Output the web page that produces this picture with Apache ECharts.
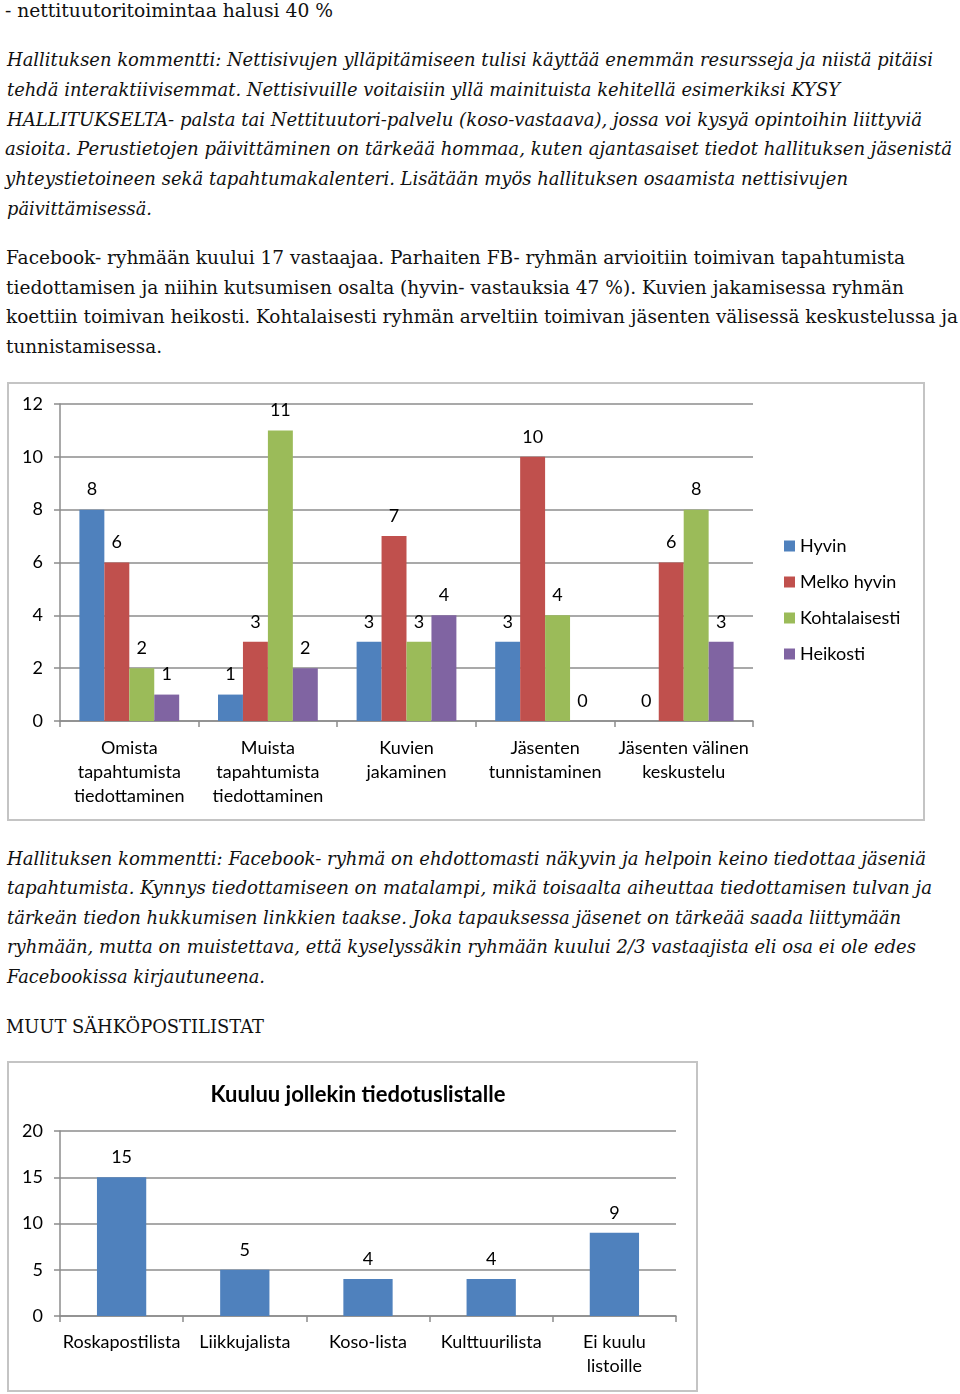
<!DOCTYPE html>
<html><head><meta charset="utf-8">
<script src="https://cdn.jsdelivr.net/npm/echarts@6/dist/echarts.min.js"></script>
<style>
html,body{margin:0;padding:0;background:#fff;}
body{width:960px;height:1394px;position:relative;overflow:hidden;}
.ln{position:absolute;white-space:pre;font-family:"DejaVu Serif",serif;font-size:19px;line-height:30px;color:#111;transform-origin:0 50%;}
.it{font-style:italic;}
.frame{position:absolute;border:2px solid #c4c4c4;box-sizing:border-box;pointer-events:none;}
.chart{position:absolute;}
</style></head>
<body>
<div id="c1" class="chart" style="left:0;top:370px;width:960px;height:460px;"></div>
<div class="frame" style="left:7px;top:382px;width:918px;height:439px;"></div>
<div id="c2" class="chart" style="left:0;top:1050px;width:700px;height:344px;"></div>
<div class="frame" style="left:7px;top:1061px;width:691px;height:331px;"></div>
<script>
// ---- text lines: [text, centerY, x, rightX, italic]
const textLines = [
 ["- nettituutoritoimintaa halusi 40 %", 10, 5, 333, false],
 ["Hallituksen kommentti: Nettisivujen ylläpitämiseen tulisi käyttää enemmän resursseja ja niistä pitäisi", 59, 7, 933, true],
 ["tehdä interaktiivisemmat. Nettisivuille voitaisiin yllä mainituista kehitellä esimerkiksi KYSY", 89, 7, 840, true],
 ["HALLITUKSELTA- palsta tai Nettituutori-palvelu (koso-vastaava), jossa voi kysyä opintoihin liittyviä", 119, 7, 922, true],
 ["asioita. Perustietojen päivittäminen on tärkeää hommaa, kuten ajantasaiset tiedot hallituksen jäsenistä", 148, 5, 952, true],
 ["yhteystietoineen sekä tapahtumakalenteri. Lisätään myös hallituksen osaamista nettisivujen", 178, 5, 848, true],
 ["päivittämisessä.", 208, 7, 152, true],
 ["Facebook- ryhmään kuului 17 vastaajaa. Parhaiten FB- ryhmän arvioitiin toimivan tapahtumista", 257, 6, 905, false],
 ["tiedottamisen ja niihin kutsumisen osalta (hyvin- vastauksia 47 %). Kuvien jakamisessa ryhmän", 287, 6, 904, false],
 ["koettiin toimivan heikosti. Kohtalaisesti ryhmän arveltiin toimivan jäsenten välisessä keskustelussa ja", 316, 6, 958, false],
 ["tunnistamisessa.", 346, 6, 162, false],
 ["Hallituksen kommentti: Facebook- ryhmä on ehdottomasti näkyvin ja helpoin keino tiedottaa jäseniä", 858, 7, 926, true],
 ["tapahtumista. Kynnys tiedottamiseen on matalampi, mikä toisaalta aiheuttaa tiedottamisen tulvan ja", 887, 7, 932, true],
 ["tärkeän tiedon hukkumisen linkkien taakse. Joka tapauksessa jäsenet on tärkeää saada liittymään", 917, 7, 901, true],
 ["ryhmään, mutta on muistettava, että kyselyssäkin ryhmään kuului 2/3 vastaajista eli osa ei ole edes", 946, 7, 916, true],
 ["Facebookissa kirjautuneena.", 976, 7, 265, true],
 ["MUUT SÄHKÖPOSTILISTAT", 1026, 6, 264, false]
];
textLines.forEach(t => {
  const d = document.createElement('div');
  d.className = 'ln' + (t[4] ? ' it' : '');
  d.textContent = t[0];
  d.style.left = t[2] + 'px';
  d.style.top = (t[1] - 15) + 'px';
  document.body.appendChild(d);
  const w = d.getBoundingClientRect().width;
  d.style.transform = 'scaleX(' + ((t[3] - t[2]) / w) + ')';
});

// ---- chart 1 data
const cats1 = ["Omista\ntapahtumista\ntiedottaminen", "Muista\ntapahtumista\ntiedottaminen", "Kuvien\njakaminen", "Jäsenten\ntunnistaminen", "Jäsenten välinen\nkeskustelu"];
const seriesNames1 = ["Hyvin", "Melko hyvin", "Kohtalaisesti", "Heikosti"];
const hyvin = [8, 1, 3, 3, 0];
const melkoHyvin = [6, 3, 7, 10, 6];
const kohtalaisesti = [2, 11, 3, 4, 8];
const heikosti = [1, 2, 4, 0, 3];
const colors1 = ["#4F81BD", "#C0504D", "#9BBB59", "#8064A2"];

// ---- chart 2 data
const title2 = "Kuuluu jollekin tiedotuslistalle";
const cats2 = ["Roskapostilista", "Liikkujalista", "Koso-lista", "Kulttuurilista", "Ei kuulu\nlistoille"];
const vals2 = [15, 5, 4, 4, 9];

const FONT = "Lato";
const gridCol = "#8c8c8c";
const FS = 18;

const c1 = echarts.init(document.getElementById('c1'), null, {renderer: 'canvas'});
const vals1 = [hyvin, melkoHyvin, kohtalaisesti, heikosti];
c1.setOption({
  animation: false,
  textStyle: {fontFamily: FONT},
  grid: {left: 60, right: 207, top: 34, bottom: 109},
  legend: {
    orient: 'vertical', left: 779, top: 161,
    itemWidth: 11, itemHeight: 11, itemGap: 16, icon: 'rect',
    textStyle: {fontFamily: FONT, fontSize: FS, color: '#000', lineHeight: 20},
    data: seriesNames1
  },
  xAxis: {
    type: 'category', data: cats1,
    axisLine: {lineStyle: {color: gridCol, width: 1.5}},
    axisTick: {show: true, length: 6, lineStyle: {color: gridCol, width: 1.5}},
    axisLabel: {fontFamily: FONT, fontSize: FS, color: '#000', lineHeight: 24, margin: 15, interval: 0}
  },
  yAxis: {
    type: 'value', min: 0, max: 12, interval: 2,
    axisLine: {show: true, lineStyle: {color: gridCol, width: 1.5}},
    axisTick: {show: true, length: 6, lineStyle: {color: gridCol, width: 1.5}},
    splitLine: {lineStyle: {color: gridCol, width: 1.5}},
    axisLabel: {fontFamily: FONT, fontSize: FS, color: '#000', margin: 17}
  },
  series: seriesNames1.map((n, i) => ({
    name: n, type: 'bar', data: vals1[i],
    barGap: '0%', barCategoryGap: '28%',
    itemStyle: {color: colors1[i]},
    label: {show: true, position: 'top', distance: 11, fontFamily: FONT, fontSize: FS, color: '#000'}
  }))
});

const c2 = echarts.init(document.getElementById('c2'), null, {renderer: 'canvas'});
c2.setOption({
  animation: false,
  textStyle: {fontFamily: FONT},
  title: {text: title2, left: 353, top: 29, textAlign: 'center',
    textStyle: {fontFamily: FONT, fontSize: 22, fontWeight: 'bold', color: '#000'}},
  grid: {left: 60, right: 24, top: 81, bottom: 78},
  xAxis: {
    type: 'category', data: cats2,
    axisLine: {lineStyle: {color: gridCol, width: 1.5}},
    axisTick: {show: true, length: 6, lineStyle: {color: gridCol, width: 1.5}},
    axisLabel: {fontFamily: FONT, fontSize: FS, color: '#000', lineHeight: 24, margin: 14, interval: 0}
  },
  yAxis: {
    type: 'value', min: 0, max: 20, interval: 5,
    axisLine: {show: true, lineStyle: {color: gridCol, width: 1.5}},
    axisTick: {show: true, length: 6, lineStyle: {color: gridCol, width: 1.5}},
    splitLine: {lineStyle: {color: gridCol, width: 1.5}},
    axisLabel: {fontFamily: FONT, fontSize: FS, color: '#000', margin: 17}
  },
  series: [{
    type: 'bar', data: vals2, barWidth: '40%',
    itemStyle: {color: '#4F81BD'},
    label: {show: true, position: 'top', distance: 11, fontFamily: FONT, fontSize: FS, color: '#000'}
  }]
});
</script>
</body></html>
